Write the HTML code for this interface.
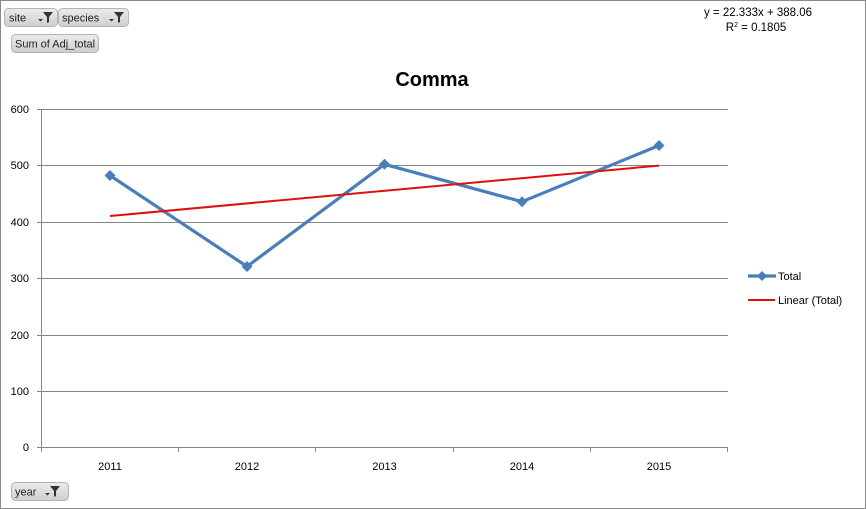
<!DOCTYPE html>
<html><head><meta charset="utf-8"><style>
html,body{margin:0;padding:0;background:#fff;}
body{width:866px;height:509px;overflow:hidden;position:relative;}
svg{position:absolute;left:0;top:0;}
text{font-family:"Liberation Sans",Arial,sans-serif;}
</style></head><body>
<svg width="866" height="509" viewBox="0 0 866 509" xmlns="http://www.w3.org/2000/svg">
<defs>
<linearGradient id="bg" x1="0" y1="0" x2="0" y2="1">
<stop offset="0" stop-color="#ececec"/><stop offset="1" stop-color="#cfcfcf"/>
</linearGradient>
</defs>
<rect x="0.5" y="0.5" width="865" height="508" fill="#fff" stroke="#8a8a8a" stroke-width="1"/>
<!-- buttons -->
<g font-size="11" fill="#222">
<rect x="4.5" y="8.5" width="53" height="18" rx="4" fill="url(#bg)" stroke="#b4b4b4"/>
<text x="9" y="21.5">site</text>
<rect x="58.5" y="8.5" width="70" height="18" rx="4" fill="url(#bg)" stroke="#b4b4b4"/>
<text x="62" y="21.5">species</text>
<rect x="11.5" y="34.5" width="87" height="18" rx="4" fill="url(#bg)" stroke="#b4b4b4"/>
<text x="15" y="47.5">Sum of Adj_total</text>
<rect x="11.5" y="482.5" width="57" height="18" rx="4" fill="url(#bg)" stroke="#b4b4b4"/>
<text x="15" y="495.5">year</text>
</g>
<g fill="#333">
<path d="M38 19 h5 l-2.5 2.5z"/><path d="M43 12 h10 l-4 5 v5 l-2 1 v-6z"/>
<path d="M109 19 h5 l-2.5 2.5z"/><path d="M114 12 h10 l-4 5 v5 l-2 1 v-6z"/>
<path d="M45 493 h5 l-2.5 2.5z"/><path d="M50 486 h10 l-4 5 v5 l-2 1 v-6z"/>
</g>
<!-- equation -->
<text x="758" y="16" font-size="11.5" text-anchor="middle" fill="#000">y = 22.333x + 388.06</text>
<text x="756" y="31" font-size="11.5" text-anchor="middle" fill="#000">R<tspan font-size="7" dy="-4">2</tspan><tspan dy="4"> = 0.1805</tspan></text>
<!-- title -->
<text x="432" y="86" font-size="20" font-weight="bold" text-anchor="middle" fill="#000">Comma</text>
<!-- gridlines -->
<g stroke="#868686" stroke-width="1">
<line x1="37" y1="109.5" x2="728" y2="109.5"/>
<line x1="37" y1="165.5" x2="728" y2="165.5"/>
<line x1="37" y1="222.5" x2="728" y2="222.5"/>
<line x1="37" y1="278.5" x2="728" y2="278.5"/>
<line x1="37" y1="335.5" x2="728" y2="335.5"/>
<line x1="37" y1="391.5" x2="728" y2="391.5"/>
<line x1="37" y1="447.5" x2="728" y2="447.5"/>
<line x1="41.5" y1="109" x2="41.5" y2="452"/>
<line x1="178.5" y1="447" x2="178.5" y2="452"/>
<line x1="315.5" y1="447" x2="315.5" y2="452"/>
<line x1="453.5" y1="447" x2="453.5" y2="452"/>
<line x1="590.5" y1="447" x2="590.5" y2="452"/>
<line x1="727.5" y1="447" x2="727.5" y2="452"/>
</g>
<g font-size="11" fill="#000" text-anchor="end">
<text x="29" y="113">600</text>
<text x="29" y="169">500</text>
<text x="29" y="226">400</text>
<text x="29" y="282">300</text>
<text x="29" y="339">200</text>
<text x="29" y="395">100</text>
<text x="29" y="451">0</text>
</g>
<g font-size="11" fill="#000" text-anchor="middle">
<text x="110" y="470">2011</text>
<text x="247" y="470">2012</text>
<text x="384.5" y="470">2013</text>
<text x="522" y="470">2014</text>
<text x="659" y="470">2015</text>
</g>
<!-- series -->
<polyline points="110,175.5 247,266.5 384.5,164.3 522,201.7 659,145.5" fill="none" stroke="#4a7ebb" stroke-width="3.2" stroke-linejoin="round"/>
<g fill="#4a7ebb">
<path d="M110 170 l5.5 5.5 l-5.5 5.5 l-5.5 -5.5z"/>
<path d="M247 261 l5.5 5.5 l-5.5 5.5 l-5.5 -5.5z"/>
<path d="M384.5 158.8 l5.5 5.5 l-5.5 5.5 l-5.5 -5.5z"/>
<path d="M522 196.2 l5.5 5.5 l-5.5 5.5 l-5.5 -5.5z"/>
<path d="M659 140 l5.5 5.5 l-5.5 5.5 l-5.5 -5.5z"/>
</g>
<line x1="110" y1="216" x2="659" y2="165.6" stroke="#e01010" stroke-width="2"/>
<!-- legend -->
<line x1="748" y1="276" x2="776" y2="276" stroke="#4a7ebb" stroke-width="3.2"/>
<path d="M762 271 l5 5 l-5 5 l-5 -5z" fill="#4a7ebb"/>
<text x="778" y="280" font-size="11" fill="#000">Total</text>
<line x1="748" y1="300" x2="775" y2="300" stroke="#e01010" stroke-width="2"/>
<text x="778" y="304" font-size="11" fill="#000">Linear (Total)</text>
</svg>
</body></html>
